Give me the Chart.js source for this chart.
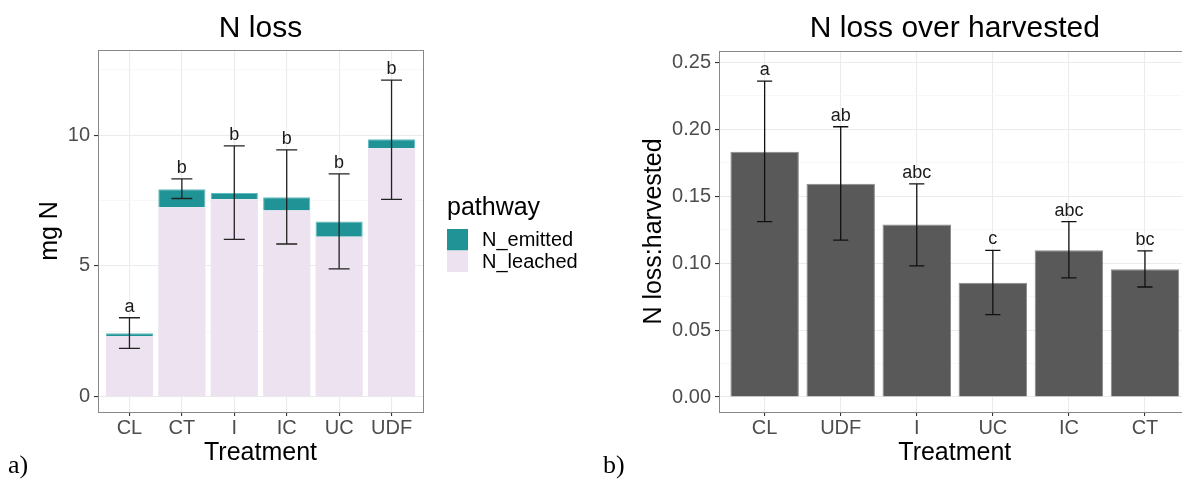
<!DOCTYPE html>
<html>
<head>
<meta charset="utf-8">
<script src="https://cdn.jsdelivr.net/npm/chart.js@4.4.0/dist/chart.umd.min.js"></script>
<style>
  html, body { margin: 0; padding: 0; background: #fff; width: 1182px; height: 483px; overflow: hidden; }
  canvas { position: absolute; top: 0; }
  #lossChart { left: 0; }
  #ratioChart { left: 590px; }
  .tag { position: absolute; font-family: 'Liberation Serif', serif; font-size: 26px; line-height: 26px; color: #000; }
</style>
</head>
<body>
<canvas id="lossChart" width="590" height="483"></canvas>
<canvas id="ratioChart" width="620" height="483"></canvas>
<div class="tag" style="left:8px; top:452px">a)</div>
<div class="tag" style="left:603px; top:452px">b)</div>
<script>
// panel a) N loss, stacked by pathway
const lossCats = ['CL', 'CT', 'I', 'IC', 'UC', 'UDF'];
const leached = [2.32, 7.25, 7.55, 7.12, 6.12, 9.50];
const emitted = [0.11, 0.68, 0.24, 0.51, 0.58, 0.35];
const lossLow = [1.85, 7.58, 6.02, 5.84, 4.89, 7.55];
const lossHigh = [3.02, 8.33, 9.59, 9.44, 8.52, 12.11];
const lossLetters = ['a', 'b', 'b', 'b', 'b', 'b'];
const lossTicks = [0, 5, 10];
const lossMinor = [2.5, 7.5, 12.5];

// panel b) N loss over harvested
const ratioCats = ['CL', 'UDF', 'I', 'UC', 'IC', 'CT'];
const ratio = [0.1832, 0.1593, 0.1289, 0.0853, 0.1097, 0.0955];
const ratioLow = [0.1311, 0.1172, 0.0980, 0.0616, 0.0890, 0.0822];
const ratioHigh = [0.2360, 0.2019, 0.1593, 0.1095, 0.1311, 0.1092];
const ratioLetters = ['a', 'ab', 'abc', 'c', 'abc', 'bc'];
const ratioTicks = [0, 0.05, 0.10, 0.15, 0.20, 0.25];
const ratioMinor = [0.025, 0.075, 0.125, 0.175, 0.225];

const FONT = "'Liberation Sans', Arial, sans-serif";

function isMajor(list, v) {
  return list.some(t => Math.abs(t - v) < 1e-9);
}

function xAxis(cats) {
  return {
    type: 'linear', min: -0.6, max: cats.length - 0.4, stacked: true, offset: false,
    afterBuildTicks: s => { s.ticks = cats.map((c, i) => ({ value: i })); },
    afterFit: s => { s.height = 71; },
    ticks: { callback: v => cats[v], color: '#4d4d4d', font: { family: FONT, size: 20 }, padding: 0, autoSkip: false, maxRotation: 0 },
    grid: { offset: false, color: '#ebebeb', lineWidth: 1.1, tickLength: 4, tickColor: '#333' },
    border: { display: false },
    title: { display: true, text: 'Treatment', color: '#000', font: { family: FONT, size: 25 }, padding: { top: 0, bottom: 15 } }
  };
}

function yAxis(major, minor, min, max, width, title, titlePad, fmt) {
  return {
    min: min, max: max, stacked: true,
    afterBuildTicks: s => { s.ticks = major.concat(minor).sort((a, b) => a - b).map(v => ({ value: v })); },
    afterFit: s => { s.width = width; },
    ticks: { callback: v => isMajor(major, v) ? fmt(v) : '', color: '#4d4d4d', font: { family: FONT, size: 20 }, padding: 4 },
    grid: {
      color: c => isMajor(major, c.tick.value) ? '#ebebeb' : '#f5f5f5',
      lineWidth: c => isMajor(major, c.tick.value) ? 1.1 : 0.7,
      tickLength: 4,
      tickColor: c => isMajor(major, c.tick.value) ? '#333' : 'rgba(0,0,0,0)'
    },
    border: { display: false },
    title: { display: true, text: title, color: '#000', font: { family: FONT, size: 25 }, padding: { top: titlePad, bottom: 0 } }
  };
}

// error bars, letters, panel border, title and (optional) legend
function panelPlugin(cfg) {
  return {
    id: 'panelExtras',
    afterDatasetsDraw(chart) {
      const { ctx, scales: { x, y } } = chart;
      ctx.save();
      ctx.strokeStyle = cfg.errColor;
      ctx.lineWidth = 1.3;
      ctx.fillStyle = '#1a1a1a';
      ctx.font = '18px ' + FONT;
      ctx.textAlign = 'center';
      ctx.textBaseline = 'alphabetic';
      cfg.low.forEach((lo, i) => {
        const px = x.getPixelForValue(i);
        const pl = x.getPixelForValue(i - cfg.cap);
        const pr = x.getPixelForValue(i + cfg.cap);
        const yt = y.getPixelForValue(cfg.high[i]);
        const yb = y.getPixelForValue(lo);
        ctx.beginPath();
        ctx.moveTo(px, yt); ctx.lineTo(px, yb);
        ctx.moveTo(pl, yt); ctx.lineTo(pr, yt);
        ctx.moveTo(pl, yb); ctx.lineTo(pr, yb);
        ctx.stroke();
        ctx.fillText(cfg.letters[i], px, yt - 6);
      });
      ctx.restore();
    },
    afterDraw(chart) {
      const { ctx, chartArea: a } = chart;
      ctx.save();
      ctx.strokeStyle = '#888';
      ctx.lineWidth = 1;
      ctx.strokeRect(Math.round(a.left) + 0.5, Math.round(a.top) + 0.5, Math.round(a.right - a.left), Math.round(a.bottom - a.top));
      ctx.fillStyle = '#000';
      ctx.font = '30px ' + FONT;
      ctx.textAlign = 'center';
      ctx.textBaseline = 'alphabetic';
      ctx.fillText(cfg.title, (a.left + a.right) / 2, 37);
      if (cfg.legend) {
        const lx = a.right + 24;
        ctx.textAlign = 'left';
        ctx.font = '25px ' + FONT;
        ctx.fillText('pathway', lx, 215);
        ctx.font = '20px ' + FONT;
        ctx.textBaseline = 'middle';
        chart.data.datasets.slice().reverse().forEach((ds, k) => {
          const ky = 229 + k * 21.5;
          ctx.fillStyle = ds.backgroundColor;
          ctx.fillRect(lx, ky, 21, 21.5);
          ctx.fillStyle = '#000';
          ctx.fillText(ds.label, lx + 35, ky + 11.5);
        });
      }
      ctx.restore();
    }
  };
}

new Chart(document.getElementById('lossChart'), {
  type: 'bar',
  data: {
    datasets: [
      { label: 'N_leached', data: lossCats.map((c, i) => ({ x: i, y: leached[i] })), backgroundColor: '#ece2f0', borderWidth: 0 },
      { label: 'N_emitted', data: lossCats.map((c, i) => ({ x: i, y: emitted[i] })), backgroundColor: '#1f9396', borderColor: '#62bcbd', borderWidth: 1 }
    ]
  },
  options: {
    responsive: false, animation: false,
    barPercentage: 0.9, categoryPercentage: 1.0,
    layout: { padding: { left: 0, top: 50, right: 167, bottom: 0 } },
    plugins: { legend: { display: false }, tooltip: { enabled: false } },
    scales: {
      x: xAxis(lossCats),
      y: yAxis(lossTicks, lossMinor, -0.585, 13.26, 98, 'mg N', 35, v => String(v))
    }
  },
  plugins: [panelPlugin({ low: lossLow, high: lossHigh, letters: lossLetters, cap: 0.2, errColor: '#222', title: 'N loss', legend: true })]
});

new Chart(document.getElementById('ratioChart'), {
  type: 'bar',
  data: {
    datasets: [
      { label: 'ratio', data: ratioCats.map((c, i) => ({ x: i, y: ratio[i] })), backgroundColor: '#595959', borderColor: '#8a8a8a', borderWidth: 1 }
    ]
  },
  options: {
    responsive: false, animation: false,
    barPercentage: 0.9, categoryPercentage: 1.0,
    layout: { padding: { left: 0, top: 51, right: 19.4, bottom: 0 } },
    plugins: { legend: { display: false }, tooltip: { enabled: false } },
    scales: {
      x: xAxis(ratioCats),
      y: yAxis(ratioTicks, ratioMinor, -0.0112, 0.2585, 129, 'N loss:harvested', 49, v => v.toFixed(2))
    }
  },
  plugins: [panelPlugin({ low: ratioLow, high: ratioHigh, letters: ratioLetters, cap: 0.1, errColor: '#111', title: 'N loss over harvested', legend: false })]
});
</script>
</body>
</html>
